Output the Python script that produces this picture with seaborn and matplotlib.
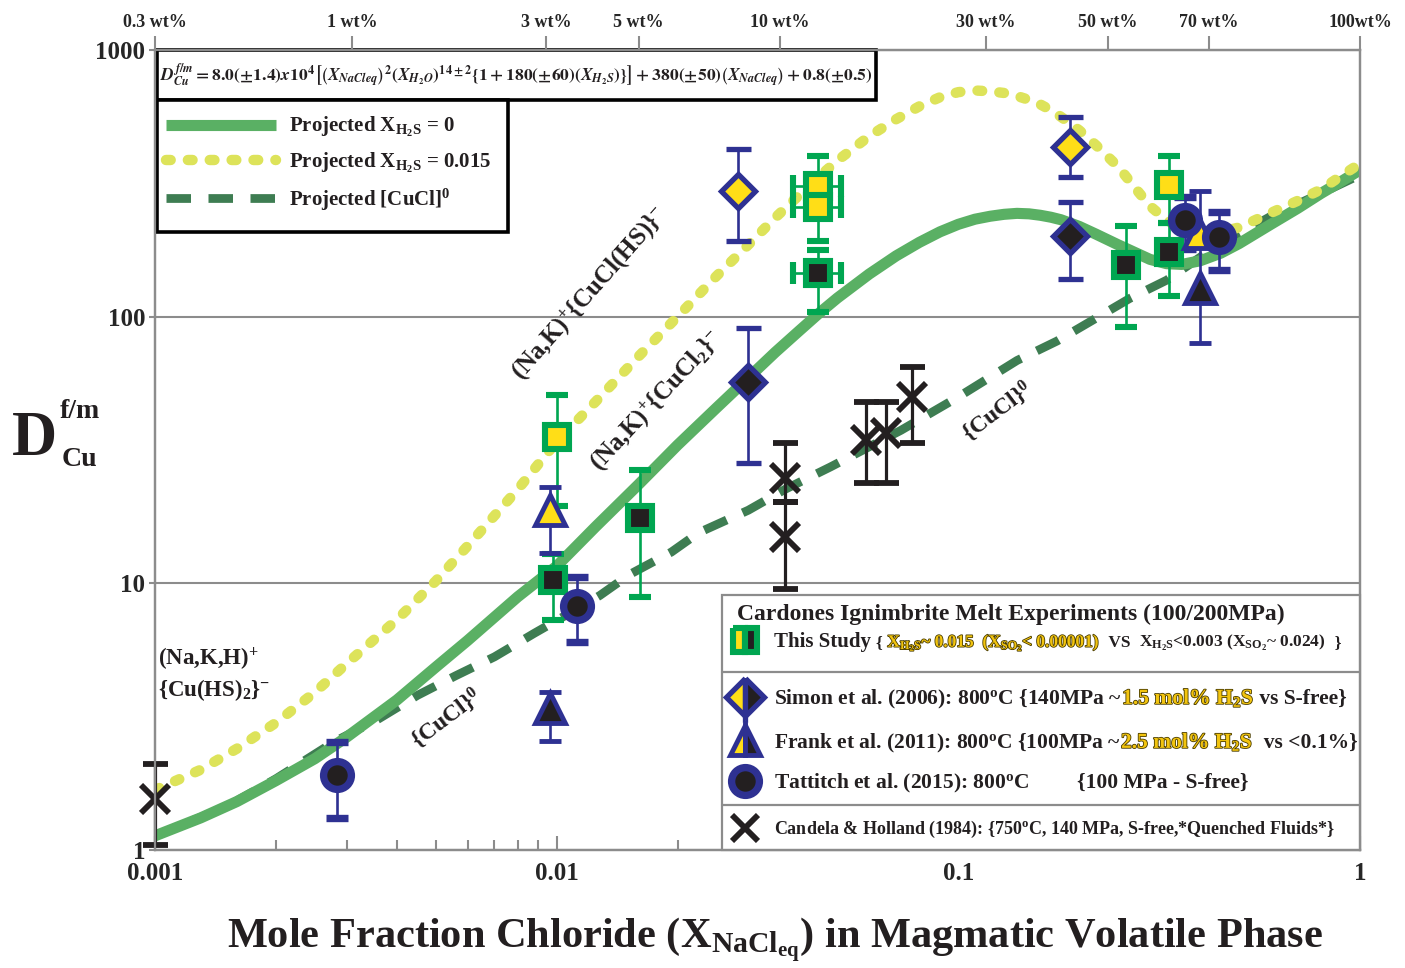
import numpy as np
import pandas as pd
import matplotlib
matplotlib.use("Agg")
import matplotlib.pyplot as plt
import matplotlib.transforms as mtransforms
import matplotlib.patheffects as pe
from matplotlib.patches import Rectangle
from matplotlib.lines import Line2D
from matplotlib.ticker import FixedLocator, FixedFormatter, NullLocator, LogLocator
import seaborn as sns

# ---------------- data ----------------
curve_x = [0.001, 0.0013, 0.0016, 0.002, 0.0025, 0.003, 0.004, 0.005, 0.006, 0.008,
           0.01, 0.0125, 0.016, 0.02, 0.025, 0.03, 0.035, 0.04, 0.045, 0.05,
           0.06, 0.07, 0.08, 0.09, 0.1, 0.11, 0.12, 0.13, 0.14, 0.15,
           0.16, 0.17, 0.18, 0.2, 0.22, 0.25, 0.28, 0.3, 0.33, 0.36,
           0.4, 0.45, 0.5, 0.6, 0.7, 0.8, 0.9, 1.0]
green_d = [1.13, 1.32, 1.52, 1.82, 2.2, 2.65, 3.65, 4.85, 6.1, 8.9,
           11.6, 16.3, 23.5, 33, 45.5, 59, 73.5, 88, 103, 117.5,
           144.5, 169, 190, 208, 222, 232, 238, 242, 244, 243,
           240, 236, 231, 218, 204, 186, 172, 164, 158, 157,
           162, 173, 188, 222, 255, 290, 322, 355]
yellow_d = [1.68, 2.0, 2.4, 3.0, 3.9, 5.0, 7.3, 10.2, 13.8, 22.5,
            34, 48, 71, 100, 142, 186, 235, 284, 335, 385,
            475, 550, 615, 665, 695, 705, 700, 690, 672, 650,
            625, 595, 562, 500, 440, 365, 295, 260, 230, 215,
            207, 208, 216, 245, 272, 300, 338, 375]
cucl_x = [0.001, 0.0015, 0.002, 0.0028, 0.0036, 0.0045, 0.0056, 0.007, 0.0088, 0.0112,
          0.0128, 0.0152, 0.0193, 0.0226, 0.03, 0.037, 0.048, 0.072, 0.1, 0.14,
          0.176, 0.216, 0.267, 0.33, 0.43, 0.6, 0.8, 1.0]
cucl_d = [1.13, 1.45, 1.85, 2.55, 3.1, 3.8, 4.5, 5.3, 6.5, 8.0,
          9.0, 10.8, 13.1, 15.5, 18.8, 22.5, 27.3, 37.5, 50, 68.5,
          81, 97, 117, 137, 180, 238, 290, 340]

# This study (squares)
ts_x = [0.0100, 0.0098, 0.0161, 0.0447, 0.0447, 0.0447, 0.261, 0.334, 0.334]
ts_d = [35.5, 10.3, 17.6, 309, 258, 146, 156, 311, 175]
ts_lo = [19.5, 7.3, 8.9, 255, 192, 104, 91.5, 224, 120]
ts_hi = [51, 12.9, 26.6, 402, 310, 178, 219, 402, 224]
ts_xlo = [None, None, None, 0.0387, 0.0387, 0.0387, None, None, None]
ts_xhi = [None, None, None, 0.051, 0.051, 0.051, None, None, None]
ts_fill = ["Y", "K", "K", "Y", "Y", "K", "K", "Y", "K"]

# Simon et al. (2006) (diamonds)
si_x = [0.0283, 0.0299, 0.19, 0.19]
si_d = [296, 57, 432, 200]
si_lo = [193, 28.3, 333, 139]
si_hi = [427, 90.6, 560, 268]
si_fill = ["Y", "K", "Y", "K"]

# Frank et al. (2011) (triangles)
fr_x = [0.0096, 0.0096, 0.397, 0.40]
fr_d = [18.8, 3.4, 206, 128]
fr_lo = [13.0, 2.56, 206, 79.6]
fr_hi = [22.9, 3.9, 206, 297]
fr_fill = ["Y", "K", "Y", "K"]

# Tattitch et al. (2015) (circles)
ta_x = [0.00284, 0.01124, 0.366, 0.446]
ta_d = [1.91, 8.2, 230, 199]
ta_lo = [1.32, 6.0, 180, 150]
ta_hi = [2.54, 10.6, 280, 246]

# Candela & Holland (1984) (crosses)
ca_x = [0.001, 0.037, 0.037, 0.0589, 0.066, 0.0766]
ca_d = [1.55, 24.8, 14.9, 34.5, 36.5, 50]
ca_lo = [1.04, 20.1, 9.5, 23.7, 23.7, 33.6]
ca_hi = [2.1, 33.6, 20.1, 47.7, 47.7, 65]

x_ticks = [0.001, 0.01, 0.1, 1]
x_ticklabels = ["0.001", "0.01", "0.1", "1"]
y_ticks = [1, 10, 100, 1000]
y_ticklabels = ["1", "10", "100", "1000"]
wt_pos = [0.001, 0.0031, 0.0094, 0.016, 0.036, 0.117, 0.236, 0.42, 1.0]
wt_labels = ["0.3 wt%", "1 wt%", "3 wt%", "5 wt%", "10 wt%", "30 wt%", "50 wt%", "70 wt%", "100wt%"]

# ---------------- style ----------------
GREEN_LINE = "#5AB064"
YELLOW_LINE = "#DDE35A"
DASH_LINE = "#3E7D52"
MK_GREEN = "#00A651"
NAVY = "#2E3192"
YEL = "#FFDE17"
BLK = "#231F20"
GOLD = "#F2C40F"
GRAY = "#8c8c8c"
FILL = {"Y": YEL, "K": BLK}

sns.set_theme(style="white")
plt.rcParams["font.family"] = ["Liberation Serif", "DejaVu Serif"]
plt.rcParams["font.weight"] = "bold"
plt.rcParams["mathtext.fontset"] = "custom"
plt.rcParams["mathtext.rm"] = "Liberation Serif:bold"
plt.rcParams["mathtext.it"] = "Liberation Serif:italic:bold"
plt.rcParams["mathtext.bf"] = "Liberation Serif:bold"
plt.rcParams["text.color"] = "#231F20"

fig = plt.figure(figsize=(14.05, 9.68), dpi=100, facecolor="white")
ax = fig.add_axes([155 / 1405, 1 - 850 / 968, 1205 / 1405, 800 / 968])
ax.set_facecolor("white")
ax.set_xscale("log")
ax.set_yscale("log")
ax.set_xlim(0.001, 1)
ax.set_ylim(1, 1000)

# ---------------- curves ----------------
df_g = pd.DataFrame({"x": curve_x, "D": green_d})
df_y = pd.DataFrame({"x": curve_x, "D": yellow_d})
df_c = pd.DataFrame({"x": cucl_x, "D": cucl_d})

sns.lineplot(data=df_c, x="x", y="D", ax=ax, color=DASH_LINE, lw=6.3,
             linestyle=(0, (2.8, 2.0)), dash_capstyle="butt", zorder=2)
h_c = ax.lines[-1]
sns.lineplot(data=df_g, x="x", y="D", ax=ax, color=GREEN_LINE, lw=8,
             solid_capstyle="butt", solid_joinstyle="round", zorder=3)
h_g = ax.lines[-1]
sns.lineplot(data=df_y, x="x", y="D", ax=ax, color=YELLOW_LINE, lw=7.5,
             linestyle=(0, (0.45, 1.65)), dash_capstyle="round", zorder=3)
h_y = ax.lines[-1]


# ---------------- markers ----------------
def pts(xs, ds, lo, hi, fills, marker, ms, mew, ec, cap, xlo=None, xhi=None, lw=1.9):
    for i in range(len(xs)):
        yerr = [[ds[i] - lo[i]], [hi[i] - ds[i]]]
        xerr = None
        if xlo is not None and xlo[i] is not None:
            xerr = [[xs[i] - xlo[i]], [xhi[i] - xs[i]]]
        ax.errorbar([xs[i]], [ds[i]], yerr=yerr, xerr=xerr, fmt=marker, ms=ms,
                    mfc=fills[i], mec=ec, mew=mew, ecolor=ec, elinewidth=lw,
                    capsize=cap, capthick=lw, zorder=6, clip_on=False)


pts(ca_x, ca_d, ca_lo, ca_hi, [BLK] * len(ca_x), "x", 20, 4.2, BLK, 9, lw=2.3)
pts(ts_x, ts_d, ts_lo, ts_hi, [FILL[f] for f in ts_fill], "s", 17, 4.4, MK_GREEN, 8,
    xlo=ts_xlo, xhi=ts_xhi)
pts(si_x, si_d, si_lo, si_hi, [FILL[f] for f in si_fill], "D", 17.5, 3.8, NAVY, 9)
pts(fr_x, fr_d, fr_lo, fr_hi, [FILL[f] for f in fr_fill], "^", 21, 3.5, NAVY, 8)
pts(ta_x, ta_d, ta_lo, ta_hi, [BLK] * len(ta_x), "o", 20, 5.3, NAVY, 8)

# ---------------- axes styling ----------------
for s in ax.spines.values():
    s.set_color(GRAY)
    s.set_linewidth(1.6)
ax.xaxis.set_major_locator(FixedLocator(x_ticks))
ax.xaxis.set_major_formatter(FixedFormatter(x_ticklabels))
ax.xaxis.set_minor_locator(LogLocator(base=10, subs=np.arange(2, 10), numticks=20))
ax.xaxis.set_minor_formatter(FixedFormatter([]))
ax.yaxis.set_major_locator(FixedLocator(y_ticks))
ax.yaxis.set_major_formatter(FixedFormatter(y_ticklabels))
ax.yaxis.set_minor_locator(NullLocator())
ax.tick_params(axis="x", which="major", direction="in", length=10, width=1.5,
               color=GRAY, labelsize=18, pad=9, bottom=True, top=False)
ax.tick_params(axis="x", which="minor", direction="in", length=7, width=1.5,
               color=GRAY, bottom=True, top=False)
ax.tick_params(axis="y", which="major", direction="out", length=4, width=1.5,
               color=GRAY, labelsize=18, pad=3, left=True)
ax.yaxis.grid(True, which="major", color=GRAY, lw=1.5)
ax.xaxis.grid(False)
ax.set_xlabel("")
ax.set_ylabel("")

ax2 = ax.twiny()
ax2.set_xscale("log")
ax2.set_xlim(ax.get_xlim())
ax2.xaxis.set_major_locator(FixedLocator(wt_pos))
ax2.xaxis.set_major_formatter(FixedFormatter(wt_labels))
ax2.xaxis.set_minor_locator(NullLocator())
ax2.tick_params(axis="x", which="major", direction="out", length=10, width=1.5,
                color=GRAY, labelsize=13, pad=4)
for s in ax2.spines.values():
    s.set_color(GRAY)
    s.set_linewidth(1.6)

# ---------------- equation box ----------------
ax.add_patch(Rectangle((0.0017, 0.9375), 0.597, 0.0625, transform=ax.transAxes,
                       fc="white", ec="black", lw=2.6, zorder=8, clip_on=False))
eq = (r"$D_{Cu}^{f/m}=8.0(\pm1.4)x10^{4}\left[\left(X_{NaCleq}\right)^{2}"
      r"\left(X_{H_2O}\right)^{14\pm2}\left\{1+180(\pm60)\left(X_{H_2S}\right)\right\}\right]"
      r"+380(\pm50)\left(X_{NaCleq}\right)+0.8(\pm0.5)$")
ax.text(0.0045, 0.9685, eq, transform=ax.transAxes, fontsize=12.6, math_fontfamily="stix",
        va="center", ha="left", zorder=9)

# ---------------- line legend ----------------
ax.add_patch(Rectangle((0.0017, 0.7725), 0.291, 0.165, transform=ax.transAxes,
                       fc="white", ec="black", lw=2.6, zorder=8, clip_on=False))
leg = ax.legend([h_g, h_y, h_c],
                [r"Projected X$_{\mathrm{H_2S}}$ = 0",
                 r"Projected X$_{\mathrm{H_2S}}$ = 0.015",
                 r"Projected [CuCl]$^{\mathrm{0}}$"],
                loc="upper left", bbox_to_anchor=(0.009, 0.919), frameon=False,
                fontsize=15, handlelength=5.3, handletextpad=0.6, labelspacing=0.57,
                borderaxespad=0, borderpad=0)
leg.set_zorder(9)

# ---------------- marker legend ----------------
ax.add_patch(Rectangle((0.4705, 0.0), 0.5295, 0.319, transform=ax.transAxes,
                       fc="white", ec=GRAY, lw=1.6, zorder=8, clip_on=False))
for yy in (0.2225, 0.05625):
    ax.add_line(Line2D([0.4705, 1.0], [yy, yy], transform=ax.transAxes, color=GRAY,
                       lw=1.6, zorder=9))

mx = 0.4896
ax.add_line(Line2D([mx], [0.2625], transform=ax.transAxes, marker="s", ms=17, mew=4.4,
                   mec=MK_GREEN, mfc=YEL, mfcalt=BLK, fillstyle="left", ls="none",
                   zorder=10, clip_on=False))
ax.add_line(Line2D([mx], [0.19125], transform=ax.transAxes, marker="D", ms=19, mew=3.8,
                   mec=NAVY, mfc=YEL, mfcalt=BLK, fillstyle="left", ls="none",
                   zorder=10, clip_on=False))
ax.add_line(Line2D([mx], [0.138], transform=ax.transAxes, marker="^", ms=21, mew=3.5,
                   mec=NAVY, mfc=YEL, mfcalt=BLK, fillstyle="left", ls="none",
                   zorder=10, clip_on=False))
ax.add_line(Line2D([mx], [0.08625], transform=ax.transAxes, marker="o", ms=20, mew=5.3,
                   mec=NAVY, mfc=BLK, ls="none", zorder=10, clip_on=False))
ax.add_line(Line2D([mx], [0.0275], transform=ax.transAxes, marker="x", ms=19, mew=4.2,
                   mec=BLK, ls="none", zorder=10, clip_on=False))

renderer = fig.canvas.get_renderer()


def rich(x, y, parts):
    trans = ax.transAxes
    for s, col, size in parts:
        kw = {}
        if col == GOLD:
            kw["path_effects"] = [pe.withStroke(linewidth=1.2, foreground="#4a3d00")]
        t = ax.text(x, y, s, transform=trans, color=col, fontsize=size, va="baseline",
                    ha="left", zorder=10, **kw)
        w = t.get_window_extent(renderer=renderer).width
        trans = mtransforms.offset_copy(trans, x=w, units="dots")


ax.text(0.483, 0.2875, "Cardones Ignimbrite Melt Experiments (100/200MPa)",
        transform=ax.transAxes, fontsize=17, va="baseline", ha="left", zorder=10)
rich(0.5137, 0.254, [("This Study ", BLK, 15), ("{ ", BLK, 12.5),
                     (r"X$_{\mathrm{H_2S}}$~ 0.015  (X$_{\mathrm{SO_2}}$< 0.00001)", GOLD, 12.5),
                     ("  VS  ", BLK, 12.5),
                     (r"X$_{\mathrm{H_2S}}$<0.003 (X$_{\mathrm{SO_2}}$~ 0.024)", BLK, 12.5),
                     ("  }", BLK, 12.5)])
rich(0.5137, 0.1825, [(r"Simon et al. (2006): 800$^{\mathrm{o}}$C {140MPa ~ ", BLK, 15.5),
                      (r"1.5 mol% H$_{\mathrm{2}}$S", GOLD, 15.5),
                      (" vs S-free}", BLK, 15.5)])
rich(0.5137, 0.1275, [(r"Frank et al. (2011): 800$^{\mathrm{o}}$C {100MPa ~ ", BLK, 15.5),
                      (r"2.5 mol% H$_{\mathrm{2}}$S", GOLD, 15.5),
                      ("  vs <0.1%}", BLK, 15.5)])
ax.text(0.5137, 0.0775, r"Tattitch et al. (2015): 800$^{\mathrm{o}}$C", transform=ax.transAxes,
        fontsize=15.5, va="baseline", ha="left", zorder=10)
ax.text(0.765, 0.0775, "{100 MPa - S-free}", transform=ax.transAxes,
        fontsize=15.5, va="baseline", ha="left", zorder=10)
ax.text(0.5137, 0.02, r"Candela & Holland (1984): {750$^{\mathrm{o}}$C, 140 MPa, S-free,*Quenched Fluids*}",
        transform=ax.transAxes, fontsize=13, va="baseline", ha="left", zorder=10)

# ---------------- species annotations ----------------
ax.text(0.0121, 122, r"(Na,K)$^{\mathrm{+}}${CuCl(HS)}$^{\mathrm{-}}$", fontsize=18,
        rotation=48.5, ha="center", va="center", rotation_mode="anchor", zorder=4)
ax.text(0.0177, 48, r"(Na,K)$^{\mathrm{+}}${CuCl$_{\mathrm{2}}$}$^{\mathrm{-}}$", fontsize=18,
        rotation=47, ha="center", va="center", rotation_mode="anchor", zorder=4)
ax.text(0.0053, 3.13, r"{CuCl}$^{\mathrm{0}}$", fontsize=17, rotation=37,
        ha="center", va="center", rotation_mode="anchor", zorder=4)
ax.text(0.125, 44.3, r"{CuCl}$^{\mathrm{0}}$", fontsize=17, rotation=37,
        ha="center", va="center", rotation_mode="anchor", zorder=4)
ax.text(0.00102, 4.93, r"(Na,K,H)$^{\mathrm{+}}$", fontsize=16.5, ha="left", va="baseline", zorder=4)
ax.text(0.00102, 3.78, r"{Cu(HS)$_{\mathrm{2}}$}$^{\mathrm{-}}$", fontsize=16.5, ha="left",
        va="baseline", zorder=4)

# ---------------- axis titles ----------------
fig.text(775 / 1405, 1 - 948 / 968,
         r"Mole Fraction Chloride (X$_{\mathrm{NaCl_{eq}}}$) in Magmatic Volatile Phase",
         ha="center", va="baseline", fontsize=30.5)
fig.text(12 / 1405, 1 - 455 / 968, "D", ha="left", va="baseline", fontsize=45)
fig.text(60 / 1405, 1 - 418 / 968, "f/m", ha="left", va="baseline", fontsize=20)
fig.text(62 / 1405, 1 - 466 / 968, "Cu", ha="left", va="baseline", fontsize=20)

fig.savefig("out.png", dpi=100, facecolor="white")
